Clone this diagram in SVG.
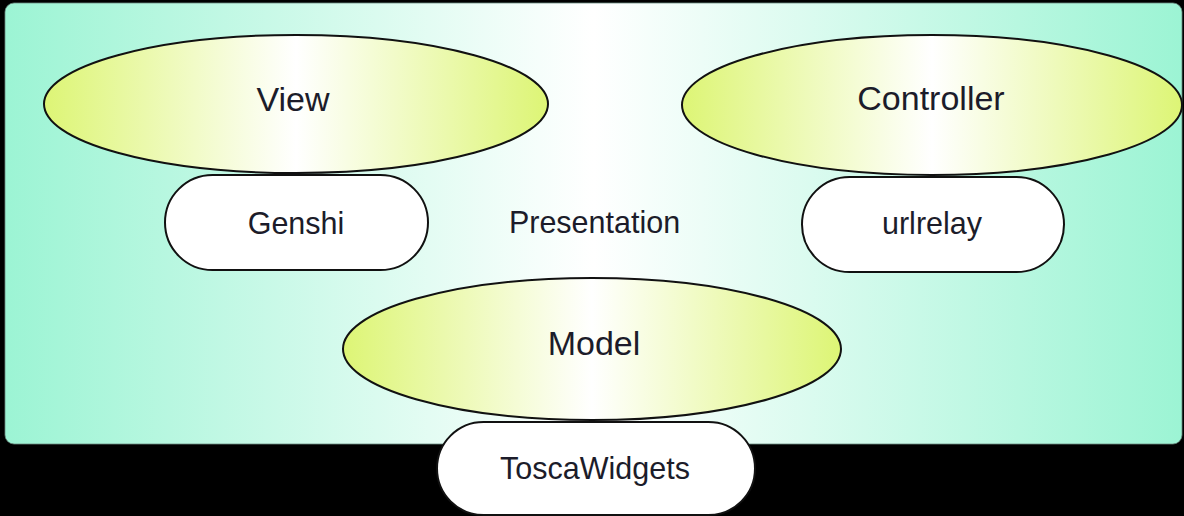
<svg xmlns="http://www.w3.org/2000/svg" width="1184" height="516" viewBox="0 0 1184 516">
  <defs>
    <linearGradient id="bg" x1="0" y1="0" x2="1" y2="0">
      <stop offset="0" stop-color="#9cf4d4"/>
      <stop offset="0.5" stop-color="#ffffff"/>
      <stop offset="1" stop-color="#9cf4d4"/>
    </linearGradient>
    <linearGradient id="ell" x1="0" y1="0" x2="1" y2="0">
      <stop offset="0" stop-color="#ddf575"/>
      <stop offset="0.5" stop-color="#ffffff"/>
      <stop offset="1" stop-color="#ddf575"/>
    </linearGradient>
    <style>
      .ell { fill: url(#ell); stroke: #111; stroke-width: 2; }
      .pill { fill: #ffffff; stroke: #111; stroke-width: 2; }
      .t { font-family: "Liberation Sans", Arial, Helvetica, sans-serif; fill: #1c1c2a; text-anchor: middle; }
      .big { font-size: 34px; }
      .small { font-size: 30.5px; }
    </style>
  </defs>
  <rect x="0" y="0" width="1184" height="516" fill="#000000"/>
  <g id="presentation">
    <rect x="5" y="3" width="1177" height="441" rx="9" ry="9" fill="url(#bg)" stroke="#6a8a80" stroke-width="0.8"/>
    <text class="t small" x="594.5" y="233">Presentation</text>
  </g>
  <g id="connectors"></g>
  <g id="view">
    <ellipse class="ell" cx="296" cy="104" rx="252" ry="69"/>
    <text class="t big" x="293" y="111">View</text>
  </g>
  <g id="controller">
    <ellipse class="ell" cx="932" cy="105" rx="250" ry="70"/>
    <text class="t big" x="931" y="110">Controller</text>
  </g>
  <g id="model">
    <ellipse class="ell" cx="592" cy="349" rx="249" ry="71"/>
    <text class="t big" x="594" y="355">Model</text>
  </g>
  <g id="genshi">
    <rect class="pill" x="165" y="175" width="263" height="95" rx="47.5" ry="47.5"/>
    <text class="t small" x="296" y="234">Genshi</text>
  </g>
  <g id="urlrelay">
    <rect class="pill" x="802" y="177" width="262" height="95" rx="47.5" ry="47.5"/>
    <text class="t small" x="932" y="234">urlrelay</text>
  </g>
  <g id="toscawidgets">
    <rect class="pill" x="437" y="422" width="318" height="93" rx="46.5" ry="46.5"/>
    <text class="t small" x="595" y="479">ToscaWidgets</text>
  </g>
</svg>
